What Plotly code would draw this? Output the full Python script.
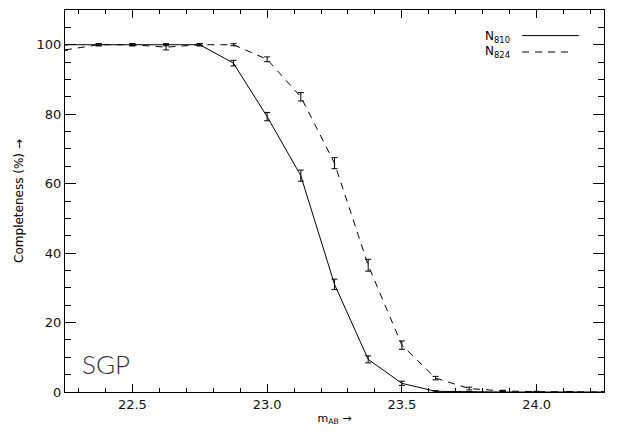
import plotly.graph_objects as go

# Magnitude bins (AB) and recovered fractions for the two narrow-band filters
m_ab = [22.25, 22.375, 22.5, 22.625, 22.75, 22.875, 23.0, 23.125, 23.25,
        23.375, 23.5, 23.625, 23.75, 23.875, 24.0, 24.125, 24.25]
n810 = [100, 100, 100, 100, 100, 94.7, 79.3, 62.3, 31.0,
        9.4, 2.5, 0.2, 0.0, 0.0, 0.0, 0.0, 0.0]
n810_err = [None, 0.3, 0.3, 0.3, 0.3, 0.8, 1.2, 1.6, 1.5,
            1.0, 0.6, 0.2, 0.1, 0.1, 0.0, 0.0, None]
n824 = [98.5, 100, 100, 99.3, 100, 100, 95.8, 85.0, 65.9,
        36.5, 13.5, 4.0, 1.0, 0.3, 0.1, 0.0, 0.0]
n824_err = [None, 0.3, 0.3, 0.8, 0.3, 0.3, 0.7, 1.2, 1.6,
            1.7, 1.2, 0.5, 0.4, 0.2, 0.1, 0.0, None]

x_ticks = [22.5, 23.0, 23.5, 24.0]
y_ticks = [0, 20, 40, 60, 80, 100]

FONT = "DejaVu Sans"

fig = go.Figure()
fig.add_trace(go.Scatter(
    x=m_ab, y=n810, mode="lines", name="N810",
    line=dict(color="black", width=1),
    error_y=dict(type="data", array=n810_err, visible=True,
                 color="black", thickness=1, width=3),
))
fig.add_trace(go.Scatter(
    x=m_ab, y=n824, mode="lines", name="N824",
    line=dict(color="black", width=1, dash="7px,6px"),
    error_y=dict(type="data", array=n824_err, visible=True,
                 color="black", thickness=1, width=3),
))

axis_common = dict(
    showline=True, linecolor="black", linewidth=1, mirror="allticks",
    ticks="inside", tickcolor="black", tickwidth=1,
    showgrid=False, zeroline=False,
    tickfont=dict(family=FONT, size=13, color="#111"),
)

fig.update_xaxes(
    range=[22.25, 24.25], tickvals=x_ticks, tickformat=".1f", ticklen=8,
    minor=dict(dtick=0.1, tick0=22.0, ticks="inside", ticklen=4,
               tickcolor="black", tickwidth=1, showgrid=False),
    title=dict(text="m<sub>AB</sub> →", font=dict(family=FONT, size=11, color="black"),
               standoff=3),
    **axis_common,
)
fig.update_yaxes(
    range=[0, 110], tickvals=y_ticks, ticklen=11,
    minor=dict(dtick=5, tick0=0, ticks="inside", ticklen=6,
               tickcolor="black", tickwidth=1, showgrid=False),
    title=dict(text="Completeness (%) →", font=dict(family=FONT, size=12, color="black"),
               standoff=10),
    **axis_common,
)

# Legend drawn as text followed by a line sample
legend_rows = [("N<sub>810</sub>", 0.930, 0.933, None, 0.954),
               ("N<sub>824</sub>", 0.889, 0.890, "7px,6px", 0.941)]
for label, ty, ly, dash, x1 in legend_rows:
    fig.add_annotation(text=label, xref="paper", yref="paper", x=0.829, y=ty,
                       xanchor="right", yanchor="middle", showarrow=False,
                       font=dict(family=FONT, size=12, color="black"))
    fig.add_shape(type="line", xref="paper", yref="paper", x0=0.848, x1=x1,
                  y0=ly, y1=ly, line=dict(color="black", width=1,
                                           dash=dash if dash else "solid"))

fig.add_annotation(text="SGP", xref="paper", yref="paper", x=0.028, y=0.072,
                   xanchor="left", yanchor="middle", showarrow=False,
                   font=dict(family="Lato", size=26, color="#333", weight=300))

fig.update_layout(
    width=622, height=432,
    margin=dict(l=65, r=18, t=10, b=40),
    paper_bgcolor="white", plot_bgcolor="white",
    showlegend=False,
)

fig.write_html("out.html")
